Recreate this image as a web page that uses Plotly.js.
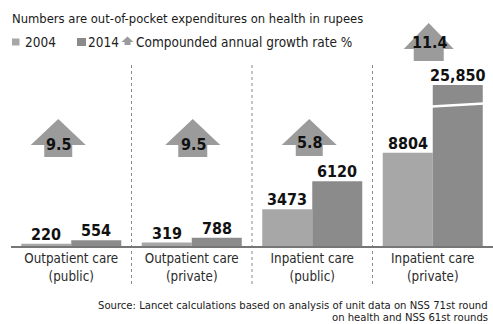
<!DOCTYPE html>
<html>
<head>
<meta charset="utf-8">
<script src="https://cdn.plot.ly/plotly-3.0.1.min.js"></script>
<style>html,body{margin:0;padding:0;background:#fff}</style>
</head>
<body>
<div id="chart" style="width:493px;height:324px"></div>
<script>
// Out-of-pocket health spending per case, in rupees
const categories = [
  'Outpatient care<br>(public)',
  'Outpatient care<br>(private)',
  'Inpatient care<br>(public)',
  'Inpatient care<br>(private)'
];
const spend2004 = [220, 319, 3473, 8804];
const spend2014 = [554, 788, 6120, 25850];
const growthRate = [9.5, 9.5, 5.8, 11.4];   // compounded annual growth rate, %
const seriesNames = ['2004', '2014'];
const axisCap = 15200;                       // top of the value axis; taller bars are drawn broken

const COL_2004 = '#a7a7a7';
const COL_2014 = '#8b8b8b';
const COL_ARROW = '#9b9b9b';
const TEXT_FONT = '"DejaVu Sans Condensed", "Liberation Sans", sans-serif';
const NUM_FONT = '"DejaVu Sans Condensed", "Liberation Sans", sans-serif';

// plot box, pixels
const W = 493, H = 324, L = 11, R = 0, T = 85, B = 78;
const pw = W - L - R, ph = H - T - B;
const px = v => (v - L) / pw;          // pixel x -> paper x
const py = v => (H - B - v) / ph;      // pixel y -> paper y
const catCenter = i => L + (i + 0.5) * pw / categories.length;

const bargap = 0.17;
const barHalf = (1 - bargap) / 2;      // width of one bar in category units
const barShift = barHalf * pw / categories.length / 2;

const fmt = v => v >= 10000 ? v.toLocaleString('en-US') : String(v);

const traces = [
  { type: 'bar', name: seriesNames[0], x: categories, y: spend2004,
    marker: { color: COL_2004 }, hoverinfo: 'skip', showlegend: false },
  { type: 'bar', name: seriesNames[1], x: categories, y: spend2014,
    marker: { color: COL_2014 }, hoverinfo: 'skip', showlegend: false }
];

const shapes = [];
const annotations = [];

// value labels above every bar
[spend2004, spend2014].forEach((vals, s) => {
  vals.forEach((v, i) => {
    annotations.push({
      xref: 'x', yref: 'y', x: i, y: Math.min(v, axisCap),
      xshift: (s === 0 ? -1 : 1) * barShift, yshift: -2,
      yanchor: 'bottom', xanchor: 'center', showarrow: false,
      text: '<b>' + fmt(v) + '</b>',
      font: { family: NUM_FONT, size: 16, color: '#111' }
    });
  });
});

// break mark across bars cut off by the axis top
spend2014.forEach((v, i) => {
  if (v > axisCap) {
    shapes.push({
      type: 'line', xref: 'x', yref: 'paper', layer: 'above',
      x0: i - 0.01, x1: i + barHalf + 0.01, y0: py(106.5), y1: py(103.5),
      line: { color: '#ffffff', width: 2.5 }
    });
  }
});

// growth-rate arrows (placement per category)
const arrowGeom = [
  { dx: -13, tip: 119, base: 145, bottom: 157, head: 27.5, stem: 14, label: 144 },
  { dx: 1,   tip: 119, base: 145, bottom: 157, head: 27.5, stem: 14.5, label: 144 },
  { dx: -3,  tip: 119, base: 145, bottom: 156, head: 27.5, stem: 13.5, label: 142 },
  { dx: -4,  tip: 23,  base: 49,  bottom: 61,  head: 25, stem: 15, label: 43 }
];
growthRate.forEach((g, i) => {
  const a = arrowGeom[i];
  const cx = catCenter(i) + a.dx;
  const pts = [
    [cx - a.stem, a.bottom], [cx - a.stem, a.base], [cx - a.head, a.base],
    [cx, a.tip], [cx + a.head, a.base], [cx + a.stem, a.base], [cx + a.stem, a.bottom]
  ];
  shapes.push({
    type: 'path', xref: 'paper', yref: 'paper', layer: 'above',
    path: 'M' + pts.map(p => px(p[0]).toFixed(5) + ',' + py(p[1]).toFixed(5)).join('L') + 'Z',
    fillcolor: COL_ARROW, line: { width: 0 }
  });
  annotations.push({
    xref: 'paper', yref: 'paper', x: px(cx + 1), y: py(a.label),
    xanchor: 'center', yanchor: 'middle', showarrow: false,
    text: '<b>' + g.toFixed(1) + '</b>',
    font: { family: NUM_FONT, size: 16, color: '#111' }
  });
});

// dotted separators between categories
for (let i = 0; i < categories.length - 1; i++) {
  shapes.push({
    type: 'line', xref: 'x', yref: 'paper', layer: 'below',
    x0: i + 0.5, x1: i + 0.5, y0: py(284), y1: py(65),
    line: { color: '#8a8a8a', width: 1, dash: 'dot' }
  });
}

// key: squares, arrow icon and labels
const keyY = 42;
shapes.push({ type: 'rect', xref: 'paper', yref: 'paper', x0: px(12), x1: px(19.5), y0: py(keyY + 3.5), y1: py(keyY - 3.5),
  fillcolor: COL_2004, line: { width: 0 } });
shapes.push({ type: 'rect', xref: 'paper', yref: 'paper', x0: px(77), x1: px(86), y0: py(keyY + 4), y1: py(keyY - 4),
  fillcolor: COL_2014, line: { width: 0 } });
{
  const cx = 127.5;
  const ic = [[cx - 3, keyY + 3], [cx - 3, keyY], [cx - 6, keyY], [cx, keyY - 5.5], [cx + 6, keyY], [cx + 3, keyY], [cx + 3, keyY + 3]];
  shapes.push({
    type: 'path', xref: 'paper', yref: 'paper',
    path: 'M' + ic.map(p => px(p[0]).toFixed(5) + ',' + py(p[1]).toFixed(5)).join('L') + 'Z',
    fillcolor: COL_ARROW, line: { width: 0 }
  });
}
const keyFont = { family: TEXT_FONT, size: 13.5, color: '#222' };
[[23, seriesNames[0]], [86, seriesNames[1]], [134, 'Compounded annual growth rate %']].forEach(([x, t]) => {
  annotations.push({ xref: 'paper', yref: 'paper', x: px(x), y: py(keyY), xanchor: 'left', yanchor: 'middle',
    showarrow: false, text: t, font: keyFont });
});

// heading and source note
annotations.push({
  xref: 'paper', yref: 'paper', x: px(10), y: py(19), xanchor: 'left', yanchor: 'middle', showarrow: false,
  text: 'Numbers are out-of-pocket expenditures on health in rupees',
  font: { family: TEXT_FONT, size: 12.9, color: '#1a1a1a' }
});
const sourceLines = [
  'Source: Lancet calculations based on analysis of unit data on NSS 71st round',
  'on health and NSS 61st rounds'
];
sourceLines.forEach((t, k) => {
  annotations.push({
    xref: 'paper', yref: 'paper', x: px(490), y: py(305.5 + k * 12), xanchor: 'right', yanchor: 'middle',
    showarrow: false, text: t,
    font: { family: TEXT_FONT, size: 11.2, color: '#1a1a1a' }
  });
});

const layout = {
  width: W, height: H,
  margin: { l: L, r: R, t: T, b: B, pad: 0 },
  paper_bgcolor: '#ffffff', plot_bgcolor: '#ffffff',
  barmode: 'group', bargap: bargap, bargroupgap: 0,
  showlegend: false,
  xaxis: {
    type: 'category', range: [-0.5, categories.length - 0.5],
    showline: true, linecolor: '#767676', linewidth: 1.5,
    ticks: '', showgrid: false, zeroline: false, fixedrange: true,
    tickfont: { family: TEXT_FONT, size: 13.3, color: '#2a2a2a' }
  },
  yaxis: {
    range: [0, axisCap], visible: false, showgrid: false, zeroline: false, fixedrange: true
  },
  shapes: shapes,
  annotations: annotations
};

Plotly.newPlot('chart', traces, layout, { displayModeBar: false, staticPlot: true });
</script>
</body>
</html>
